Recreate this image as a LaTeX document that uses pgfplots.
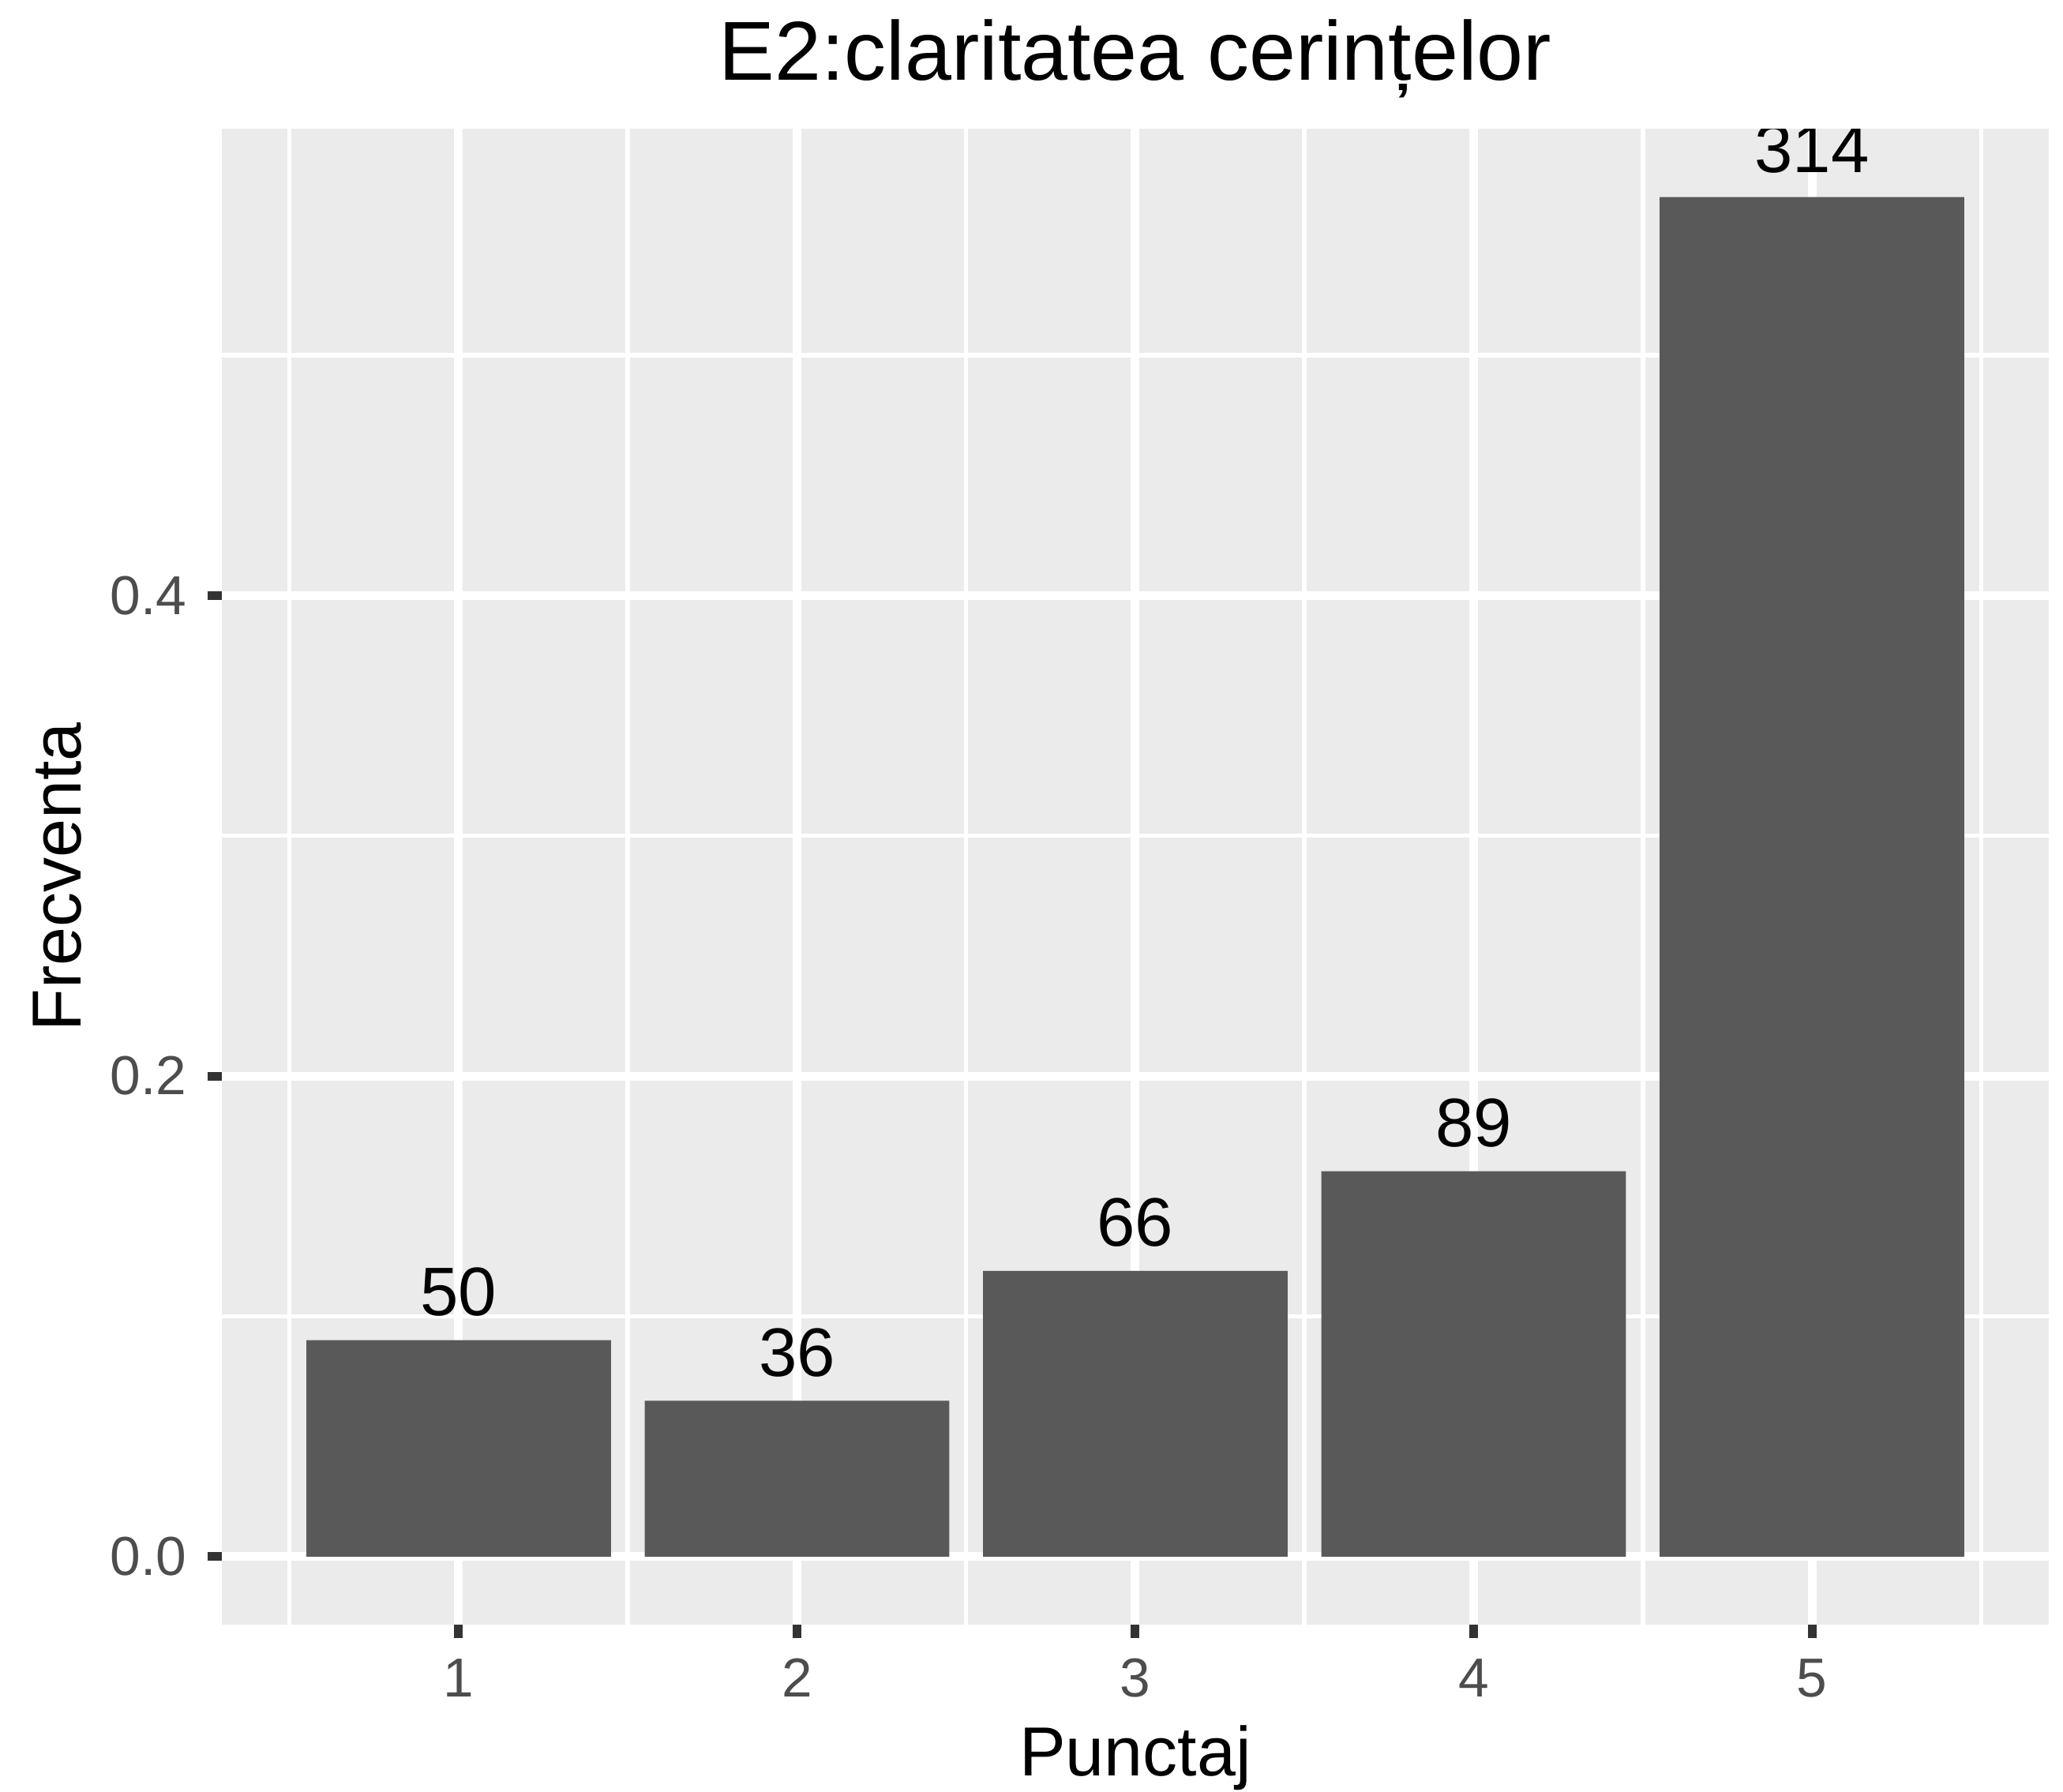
\documentclass[border=0pt]{standalone}
\usepackage{pgfplots}
\pgfplotsset{compat=1.18}
\usepackage{fontspec}
\setmainfont{Liberation Sans}
\definecolor{panelbg}{HTML}{EBEBEB}
\definecolor{barfill}{HTML}{595959}
\definecolor{tickgray}{HTML}{333333}
\definecolor{labgray}{HTML}{4D4D4D}
\begin{document}
\begin{tikzpicture}
\begin{axis}[
  at={(56.2pt,42.4pt)}, anchor=south west,
  scale only axis, width=462.8pt, height=378.9pt,
  xmin=0.3, xmax=5.7, ymin=-0.0283, ymax=0.5941,
  axis background/.style={fill=panelbg},
  axis line style={draw=none},
  xtick={1,2,3,4,5}, xticklabels={1,2,3,4,5},
  ytick={0,0.2,0.4}, yticklabels={0.0,0.2,0.4},
  minor xtick={0.5,1.5,2.5,3.5,4.5,5.5},
  minor ytick={0.1,0.3,0.5},
  xmajorgrids, ymajorgrids, xminorgrids, yminorgrids,
  major grid style={white, line width=2.2pt},
  minor grid style={white, line width=1.1pt},
  tick align=outside, xtick pos=bottom, ytick pos=left,
  major tick length=3.5pt, minor tick length=0pt,
  major tick style={tickgray, line width=2.2pt},
  tick label style={font=\fontsize{13.9}{16}\selectfont, text=labgray, inner sep=0pt},
  yticklabel style={anchor=east, xshift=-5.2pt},
  xticklabel style={anchor=base, yshift=-14.8pt},
  title={E2:claritatea cerințelor},
  title style={at={(0.5,1)}, anchor=base, yshift=6.3pt, inner sep=0pt, font=\fontsize{21.2}{25}\selectfont},
  xlabel={Punctaj},
  xlabel style={at={(0.5,0)}, anchor=base, yshift=-38.4pt, inner sep=0pt, font=\fontsize{17.6}{20}\selectfont},
  ylabel={Frecventa},
  ylabel style={at={(0,0.5)}, anchor=base, yshift=35.6pt, inner sep=0pt, font=\fontsize{17.6}{20}\selectfont},
  ybar, bar width=0.9,
  point meta=explicit symbolic,
  nodes near coords={\pgfplotspointmeta},
  nodes near coords style={anchor=base, yshift=6.2pt, inner sep=0pt, text=black, font=\fontsize{17.4}{20}\selectfont},
]
\addplot[fill=barfill, draw=none] coordinates {
  (1,0.09009) [50]
  (2,0.06486) [36]
  (3,0.11892) [66]
  (4,0.16036) [89]
  (5,0.56577) [314]
};
\end{axis}
% hide the part of the bar labels that ggplot clips at the panel's top edge
\fill[white] (current axis.north west) rectangle ([yshift=4pt]current axis.north east);
\pgfresetboundingbox
\useasboundingbox (0,0) rectangle (522.6pt,454pt);
\end{tikzpicture}
\end{document}
